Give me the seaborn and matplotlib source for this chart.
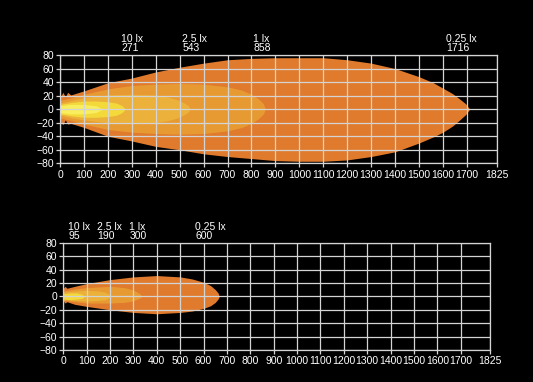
import numpy as np
import matplotlib.pyplot as plt
import seaborn as sns

lux_labels = ["10 lx", "2.5 lx", "1 lx", "0.25 lx"]
top_dist = [271, 543, 858, 1716]
bottom_dist = [95, 190, 300, 600]
x_ticks = [0, 100, 200, 300, 400, 500, 600, 700, 800, 900, 1000, 1100, 1200,
           1300, 1400, 1500, 1600, 1700, 1825]
y_ticks = [-80, -60, -40, -20, 0, 20, 40, 60, 80]

# beam outlines: distance, upper edge, lower edge
top_q_x = [0, 12, 22, 32, 45, 100, 200, 300, 400, 500, 600, 700, 800, 900,
           1000, 1100, 1200, 1300, 1400, 1500, 1560, 1600, 1640, 1670, 1695, 1712]
top_q_up = [17, 25, 18, 25, 21, 27, 39, 46, 55, 62, 68, 73, 75, 76, 76, 76,
            73, 68, 60, 48, 39, 31, 23, 15, 8, 0]
top_q_lo = [-18, -23, -16, -22, -21, -27, -40, -47, -55, -60, -66, -70, -73,
            -76, -77, -77, -75, -70, -63, -50, -41, -34, -25, -16, -8, 0]

top_1_x = [0, 50, 100, 200, 300, 400, 500, 600, 700, 760, 800, 830, 850, 858]
top_1_up = [13, 17, 22, 30, 35, 37, 38, 37, 33, 28, 22, 15, 8, 0]
top_1_lo = [-13, -17, -22, -30, -34, -36, -37, -36, -32, -27, -21, -14, -7, 0]

top_25_x = [0, 50, 100, 200, 300, 400, 450, 490, 520, 537, 543]
top_25_up = [9, 13, 17, 21, 22, 21, 18, 14, 9, 5, 0]
top_25_lo = [-9, -13, -16, -20, -21, -20, -17, -13, -8, -4, 0]

top_10_x = [0, 50, 100, 150, 200, 235, 255, 266, 271]
top_10_up = [7, 10, 12, 12, 11, 9, 6, 3, 0]
top_10_lo = [-7, -10, -12, -12, -11, -9, -6, -3, 0]

top_core_x = [0, 40, 100, 150, 180]
top_core_up = [5, 7, 7, 5, 0]
top_core_lo = [-5, -7, -7, -5, 0]

bot_q_x = [0, 8, 15, 50, 100, 200, 300, 400, 500, 550, 600, 630, 650, 662, 667]
bot_q_up = [12, 15, 12, 15, 19, 25, 29, 31, 29, 26, 21, 16, 10, 5, 0]
bot_q_lo = [-7, -10, -8, -12, -15, -20, -24, -26, -24, -22, -18, -14, -9, -4, 0]

bot_1_x = [0, 50, 100, 200, 260, 295, 318, 330, 335]
bot_1_up = [8, 11, 13, 15, 13, 10, 6, 3, 0]
bot_1_lo = [-6, -8, -10, -10, -9, -7, -4, -2, 0]

bot_25_x = [0, 50, 100, 150, 180, 195, 200]
bot_25_up = [6, 8, 9, 8, 6, 3, 0]
bot_25_lo = [-5, -6, -7, -6, -5, -2, 0]

bot_10_x = [0, 30, 60, 80, 92]
bot_10_up = [4, 5, 5, 3, 0]
bot_10_lo = [-4, -5, -4, -3, 0]

colors = ["#e07a2d", "#e89a32", "#ecb13a", "#f3d93a", "#f8ee5e"]

sns.set_theme(style="dark", rc={
    "figure.facecolor": "black",
    "axes.facecolor": "black",
    "axes.edgecolor": "#d4d4d4",
    "grid.color": "#d4d4d4",
    "xtick.color": "#d4d4d4",
    "ytick.color": "#d4d4d4",
    "text.color": "white",
})
plt.rcParams["font.family"] = ["Liberation Sans", "DejaVu Sans"]

fig = plt.figure(figsize=(5.33, 3.82), dpi=100)
ax_top = fig.add_axes([0.1126, 0.5725, 0.8194, 0.2835])
ax_bot = fig.add_axes([0.1188, 0.0838, 0.8005, 0.2809])

top_shapes = [(top_q_x, top_q_up, top_q_lo), (top_1_x, top_1_up, top_1_lo),
              (top_25_x, top_25_up, top_25_lo), (top_10_x, top_10_up, top_10_lo),
              (top_core_x, top_core_up, top_core_lo)]
bot_shapes = [(bot_q_x, bot_q_up, bot_q_lo), (bot_1_x, bot_1_up, bot_1_lo),
              (bot_25_x, bot_25_up, bot_25_lo), (bot_10_x, bot_10_up, bot_10_lo)]


def draw(ax, shapes, dists):
    for (xs, up, lo), col in zip(shapes, colors):
        ax.fill_between(xs, lo, up, color=col, lw=0, zorder=1)
    ax.set_xlim(0, 1825)
    ax.set_ylim(-80, 80)
    ax.set_xticks(x_ticks)
    ax.set_yticks(y_ticks)
    ax.set_axisbelow(False)
    ax.grid(True, color="#d4d4d4", lw=0.9)
    for sp in ax.spines.values():
        sp.set_visible(True)
        sp.set_linewidth(0.9)
    ax.tick_params(axis="both", length=3, width=0.9, pad=1.5, labelsize=7.5,
                   labelcolor="white", bottom=True, left=True)
    texts = []
    for lab, d in zip(lux_labels, dists):
        texts.append(ax.text(d * 0.94, 83, f"{lab}\n{d}", ha="left", va="bottom",
                             color="white", fontsize=7.5, linespacing=0.85,
                             clip_on=False))
    return texts


def spread(ax, texts, gap=7):
    # push labels left so they don't run into each other
    r = fig.canvas.get_renderer()
    inv = ax.transData.inverted()
    for i in range(len(texts) - 2, -1, -1):
        bb = texts[i].get_window_extent(r)
        nxt = texts[i + 1].get_window_extent(r)
        limit = nxt.x0 - gap
        if bb.x1 > limit:
            x0, y0 = texts[i].get_position()
            px = ax.transData.transform((x0, y0))
            new = inv.transform((px[0] - (bb.x1 - limit), px[1]))
            texts[i].set_x(new[0])


t_top = draw(ax_top, top_shapes, top_dist)
t_bot = draw(ax_bot, bot_shapes, bottom_dist)
fig.canvas.draw()
spread(ax_top, t_top)
spread(ax_bot, t_bot)

fig.savefig("out.png", dpi=100, facecolor="black")
